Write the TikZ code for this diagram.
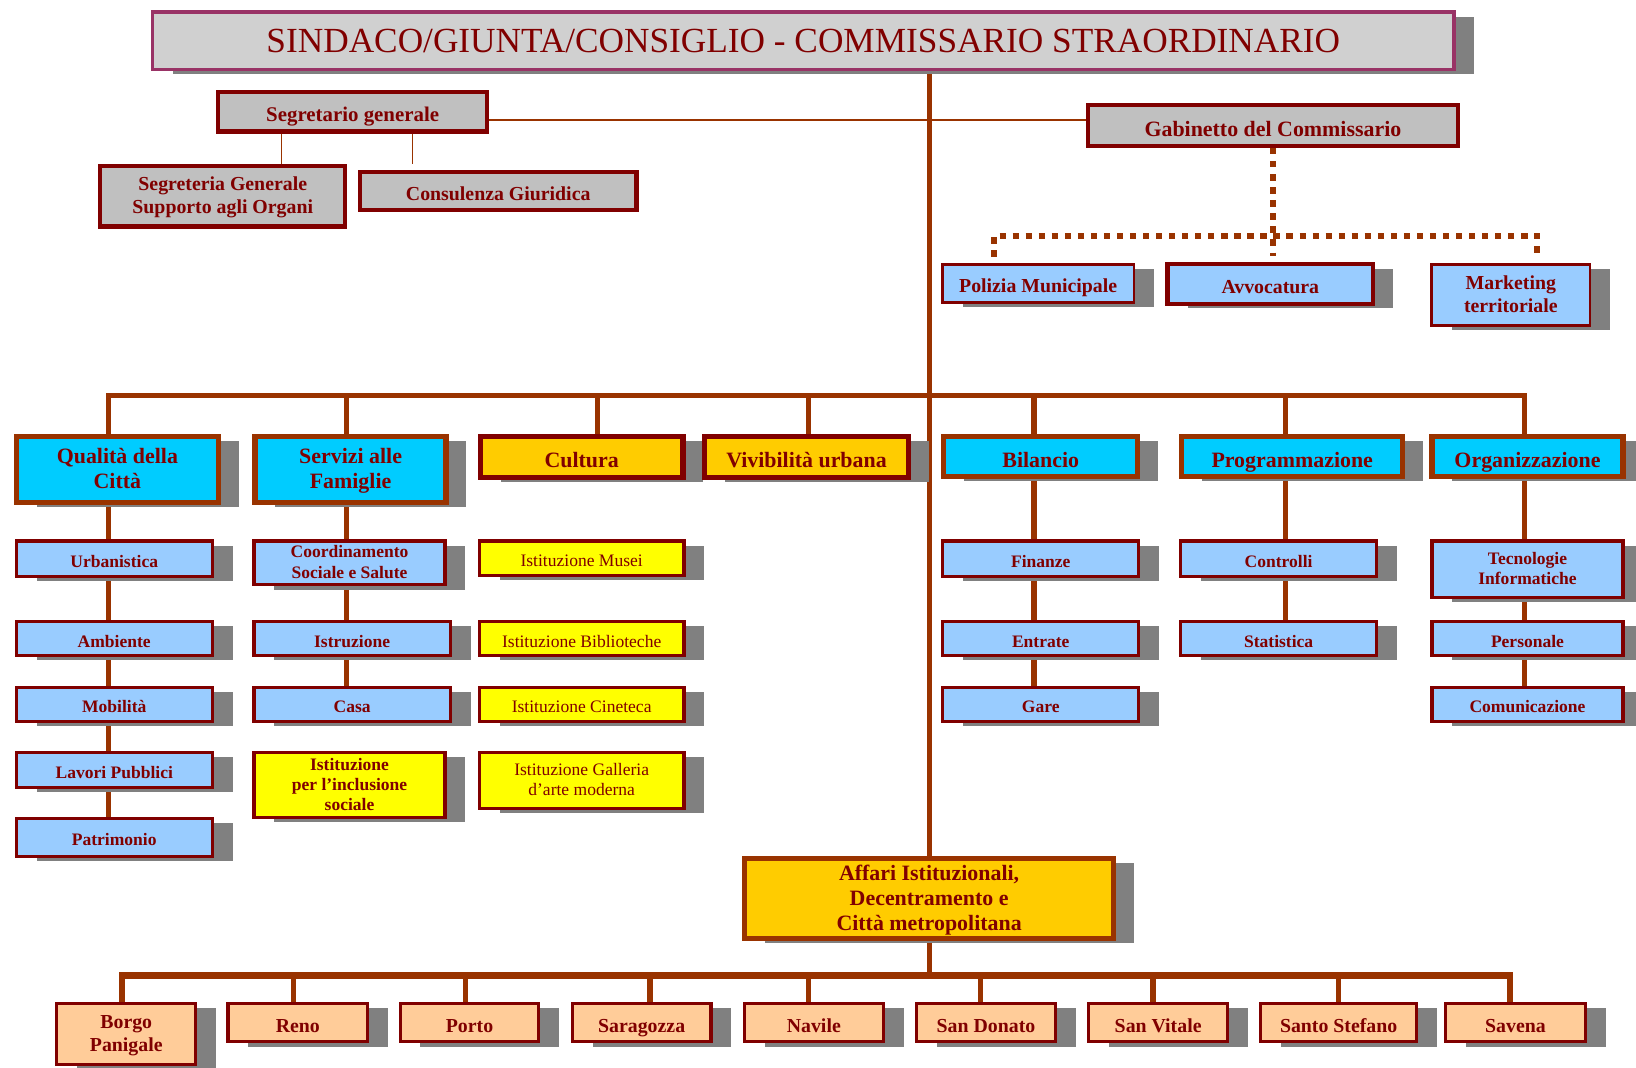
\documentclass[tikz,border=0pt]{standalone}
\usepackage{fontspec}
\setmainfont{Liberation Serif}
\usetikzlibrary{shadows,backgrounds}
\definecolor{R4}{RGB}{128,0,0}
\definecolor{O4}{RGB}{153,51,0}
\definecolor{T4}{RGB}{153,51,102}
\definecolor{C4}{RGB}{0,204,255}
\definecolor{L4}{RGB}{153,204,255}
\definecolor{G4}{RGB}{255,204,0}
\definecolor{Y4}{RGB}{255,255,0}
\definecolor{P4}{RGB}{255,204,153}
\definecolor{S4}{RGB}{192,192,192}
\definecolor{W4}{RGB}{208,208,208}
\definecolor{D4}{RGB}{128,128,128}
\newcommand{\topstrut}{\rule{0pt}{1.05em}}
\tikzset{
  bx/.style 2 args={minimum width=#1pt, minimum height=#2pt},
  box/.style={draw=R4, text=R4, inner sep=2pt, align=center},
  sbox/.style={box, execute at begin node=\topstrut, text depth=1.4pt},
  shad/.style={drop shadow={shadow xshift=19.5pt, shadow yshift=-4.5pt, fill=D4, opacity=1}},
  titlebox/.style={box, shad, draw=T4, fill=W4, line width=3pt, font=\fontsize{33.8}{40}\selectfont},
  topbox/.style={sbox, fill=S4, line width=4pt, font=\fontsize{19}{22}\selectfont\bfseries},
  gabbox/.style={sbox, shad, fill=L4, line width=2.5pt, font=\fontsize{19}{22}\selectfont\bfseries},
  headbox/.style={sbox, shad, line width=5pt, font=\fontsize{21}{24}\selectfont\bfseries},
  subbox/.style={sbox, shad, fill=L4, line width=3pt, font=\fontsize{16.8}{20}\selectfont\bfseries},
  istbox/.style={sbox, shad, fill=Y4, line width=3pt, font=\fontsize{16.8}{19.5}\selectfont},
  zonebox/.style={sbox, shad, fill=P4, line width=3pt, font=\fontsize{19}{22}\selectfont\bfseries},
  trunkline/.style={O4, line width=5pt},
  zoneline/.style={O4, line width=6pt},
  thinline/.style={O4, line width=1pt},
  dotline/.style={O4, line width=5.5pt, dash pattern=on 6pt off 6.5pt},
}

\begin{document}
\begin{tikzpicture}[x=1pt, y=-1pt]
  \useasboundingbox (0,0) rectangle (1568,1023);
  % vertice
  \node[titlebox, bx={1247}{55}] (sind) at (770,39) {SINDACO/GIUNTA/CONSIGLIO - COMMISSARIO STRAORDINARIO};
  \node[topbox, bx={258}{38}, font=\fontsize{20}{22}\selectfont\bfseries] (segr) at (338,107) {Segretario generale};
  \node[topbox, bx={235}{58}] (sgo) at (213.5,188) {Segreteria Generale\\Supporto agli Organi};
  \node[topbox, bx={265}{36}] (cons) at (477.5,183) {Consulenza Giuridica};
  \node[topbox, bx={354}{39}, font=\fontsize{21}{22}\selectfont\bfseries] (gab) at (1220,120.5) {Gabinetto del Commissario};
  \node[gabbox, bx={183.5}{36.5}] (pol) at (995,271.5) {Polizia Municipale};
  \node[gabbox, bx={197}{38}, line width=4pt] (avv) at (1217.5,272) {Avvocatura};
  \node[gabbox, bx={151.5}{58.5}] (mkt) at (1448,282.5) {Marketing\\territoriale};
  % aree
  \node[headbox, fill=C4, draw=O4, bx={194}{63}] (qual) at (112.5,450) {Qualità della\\Città};
  \node[headbox, fill=C4, draw=O4, bx={183}{63}] (serv) at (336,450) {Servizi alle\\Famiglie};
  \node[headbox, fill=G4, bx={194}{39}] (cult) at (557.5,438) {Cultura};
  \node[headbox, fill=G4, bx={195}{39}] (viv) at (773,438) {Vivibilità urbana};
  \node[headbox, fill=C4, draw=O4, bx={186}{38}] (bil) at (997.5,437.5) {Bilancio};
  \node[headbox, fill=C4, draw=O4, bx={212}{38}] (prog) at (1238.5,437.5) {Programmazione};
  \node[headbox, fill=C4, draw=O4, bx={183}{38}] (org) at (1464,437.5) {Organizzazione};
  % settori
  \node[subbox, bx={188}{34}] (urb) at (109.5,535.5) {Urbanistica};
  \node[subbox, bx={188}{33}] (amb) at (109.5,612) {Ambiente};
  \node[subbox, bx={188}{33}] (mob) at (109.5,675) {Mobilità};
  \node[subbox, bx={188}{33}] (lav) at (109.5,738) {Lavori Pubblici};
  \node[subbox, bx={188}{36}] (pat) at (109.5,802.5) {Patrimonio};
  \node[subbox, bx={183}{42}] (coord) at (335,539.5) {Coordinamento\\Sociale e Salute};
  \node[subbox, bx={188}{33}] (istr) at (337.5,612) {Istruzione};
  \node[subbox, bx={188}{33}] (casa) at (337.5,675) {Casa};
  \node[istbox, bx={183}{62}, font=\fontsize{16.8}{19.5}\selectfont\bfseries] (incl) at (335,752.5) {Istituzione\\per l’inclusione\\sociale};
  \node[istbox, bx={196}{33}] (mus) at (557.5,535) {Istituzione Musei};
  \node[istbox, bx={196}{33}] (bib) at (557.5,612) {Istituzione Biblioteche};
  \node[istbox, bx={196}{33}] (cin) at (557.5,675) {Istituzione Cineteca};
  \node[istbox, bx={196}{53}] (gal) at (557.5,748) {Istituzione Galleria\\d’arte moderna};
  \node[subbox, bx={188}{34}] (fin) at (997.5,535.5) {Finanze};
  \node[subbox, bx={188}{33}] (ent) at (997.5,612) {Entrate};
  \node[subbox, bx={188}{33}] (gare) at (997.5,675) {Gare};
  \node[subbox, bx={188}{34}] (contr) at (1225.5,535.5) {Controlli};
  \node[subbox, bx={188}{33}] (stat) at (1225.5,612) {Statistica};
  \node[subbox, bx={183}{54}] (tecn) at (1464,545.5) {Tecnologie\\Informatiche};
  \node[subbox, bx={183}{33}] (pers) at (1464,612) {Personale};
  \node[subbox, bx={183}{33}] (com) at (1464,675) {Comunicazione};
  % decentramento
  \node[headbox, fill=G4, draw=O4, bx={354}{77}] (aff) at (890.5,861) {Affari Istituzionali,\\Decentramento e\\Città metropolitana};
  \node[zonebox, bx={133}{59}] (borgo) at (121,991) {Borgo\\Panigale};
  \node[zonebox, bx={134}{37}] (reno) at (285.5,980) {Reno};
  \node[zonebox, bx={133}{37}] (porto) at (450,980) {Porto};
  \node[zonebox, bx={133}{37}] (sarag) at (615,980) {Saragozza};
  \node[zonebox, bx={133}{37}] (nav) at (780,980) {Navile};
  \node[zonebox, bx={133}{37}] (sdon) at (945,980) {San Donato};
  \node[zonebox, bx={133}{37}] (svit) at (1110,980) {San Vitale};
  \node[zonebox, bx={149}{37}] (sst) at (1283,980) {Santo Stefano};
  \node[zonebox, bx={134}{37}] (sav) at (1452.5,980) {Savena};
  % collegamenti
  \coordinate (t1) at (270,157); \coordinate (t2) at (395,157);
  \coordinate (dl) at (953,226); \coordinate (dr) at (1473,226);
  \coordinate (b1) at (104,379); \coordinate (b2) at (332,379);
  \coordinate (b3) at (573,379); \coordinate (b4) at (775,379);
  \coordinate (b5) at (991,379); \coordinate (b6) at (1232,379);
  \coordinate (b7) at (1461,379);
  \coordinate (d1) at (117,935); \coordinate (d2) at (281,935);
  \coordinate (d3) at (446,935); \coordinate (d4) at (623,935);
  \coordinate (d5) at (775,935); \coordinate (d6) at (940,935);
  \coordinate (d7) at (1105,935); \coordinate (d8) at (1283,935);
  \coordinate (d9) at (1447,935);
  \begin{scope}[on background layer]
    \draw[thinline] ([yshift=-8pt]segr.east) -- ([yshift=-8pt]segr.east -| gab.west);
    \draw[thinline] (t1 |- segr.south) -- (t1);
    \draw[thinline] (t2 |- segr.south) -- (t2);
    \draw[trunkline] (aff.north |- sind.south) -- (aff.north);
    \draw[dotline, shorten >=6pt] (gab.south) -- (gab.south |- avv.north);
    \draw[dotline, shorten <=6pt, shorten >=6pt] (dl |- pol.north) -- (dl) -- (dr) -- (dr |- mkt.north);
    \draw[trunkline] (b1 |- qual.north) -- (b1) -- (b7) -- (b7 |- org.north);
    \draw[trunkline] (b2) -- (b2 |- serv.north);
    \draw[trunkline] (b3) -- (b3 |- cult.north);
    \draw[trunkline] (b4) -- (b4 |- viv.north);
    \draw[trunkline] (b5) -- (b5 |- bil.north);
    \draw[trunkline] (b6) -- (b6 |- prog.north);
    \draw[trunkline] (b1 |- qual.south) -- (b1 |- pat.north);
    \draw[trunkline] (b2 |- serv.south) -- (b2 |- casa.north);
    \draw[trunkline] (b5 |- bil.south) -- (b5 |- gare.north);
    \draw[trunkline] (b6 |- prog.south) -- (b6 |- stat.north);
    \draw[trunkline] (b7 |- org.south) -- (b7 |- com.north);
    \draw[trunkline] (aff.south) -- (aff.south |- d1);
    \draw[zoneline] (d1 |- borgo.north) -- (d1) -- (d9) -- (d9 |- sav.north);
    \draw[trunkline] (d2) -- (d2 |- reno.north);
    \draw[trunkline] (d3) -- (d3 |- porto.north);
    \draw[trunkline] (d4) -- (d4 |- sarag.north);
    \draw[trunkline] (d5) -- (d5 |- nav.north);
    \draw[trunkline] (d6) -- (d6 |- sdon.north);
    \draw[trunkline] (d7) -- (d7 |- svit.north);
    \draw[trunkline] (d8) -- (d8 |- sst.north);
  \end{scope}
\end{tikzpicture}
\end{document}
